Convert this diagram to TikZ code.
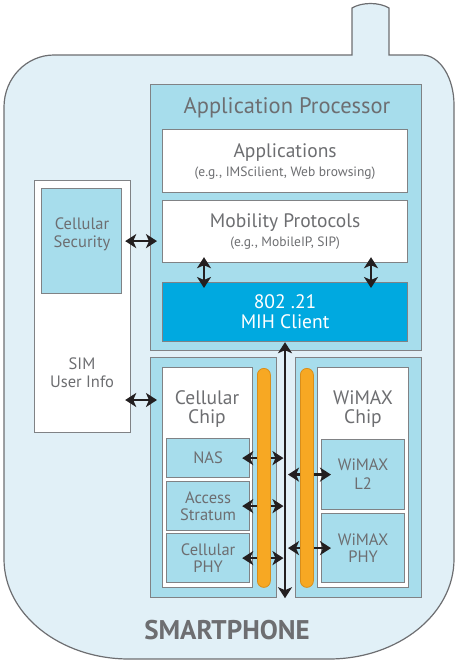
\documentclass[tikz,border=0pt]{standalone}
\usepackage{fontspec}
\setmainfont{PT Sans}
\usetikzlibrary{arrows.meta}
\definecolor{phoneFill}{HTML}{E1F0F7}
\definecolor{phoneLine}{HTML}{6D6E71}
\definecolor{boxLine}{HTML}{808285}
\definecolor{chipBlue}{HTML}{A7DDEC}
\definecolor{mihBlue}{HTML}{00A9E0}
\definecolor{busOrange}{HTML}{F7A823}
\definecolor{busOrangeLine}{HTML}{D98E1A}
\definecolor{labelGray}{HTML}{6D6E71}
\definecolor{arrowBlack}{HTML}{231F20}
\newcommand\subsize{\fontsize{13.5}{15}\selectfont}

\begin{document}
\begin{tikzpicture}[x=1pt,y=-1pt]
  \tikzset{
    block/.style={draw=boxLine,line width=1.2pt,inner sep=0pt,anchor=north west,text=labelGray,align=center},
    whitebox/.style={block,fill=white},
    chipbox/.style={block,fill=chipBlue},
    bar/.style={draw=busOrangeLine,fill=busOrange,line width=0.8pt,rounded corners=6.5pt,anchor=north west,inner sep=0pt,minimum width=13pt,minimum height=219pt},
    link/.style={{Stealth[length=11pt,width=14pt,inset=3pt]}-{Stealth[length=11pt,width=14pt,inset=3pt]},line width=2.6pt,draw=arrowBlack},
    bigtxt/.style={font=\fontsize{19.5}{19.5}\selectfont,text=labelGray,align=center},
    smalltxt/.style={font=\fontsize{16.5}{18}\selectfont,text=labelGray,align=center}
  }
  \useasboundingbox (0,0) rectangle (456,663);

  \filldraw[draw=phoneLine,fill=phoneFill,line width=1.2pt]
    (4,107) arc[start angle=180,end angle=270,x radius=50,y radius=52]
    -- (352,55) -- (352,8) .. controls (362,2) and (379,2) .. (389,8) -- (389,55)
    -- (422,55) arc[start angle=270,end angle=360,x radius=32,y radius=50]
    -- (454,559) arc[start angle=0,end angle=90,x radius=125,y radius=100]
    -- (129,659) arc[start angle=90,end angle=180,x radius=125,y radius=100]
    -- cycle;

  \node[chipbox,minimum width=271pt,minimum height=266pt] (ap) at (150,84) {};
  \node[bigtxt,font=\fontsize{22.5}{24}\selectfont] (aptitle) at (287,108) {Application Processor};
  \node[whitebox,minimum width=245pt,minimum height=63pt,font=\fontsize{19.5}{20}\selectfont] (apps) at (162,129)
    {Applications\\[-1pt]{\subsize (e.g., IMScilient, Web browsing)}};
  \node[whitebox,minimum width=245pt,minimum height=62pt,font=\fontsize{19.5}{20}\selectfont] (mob) at (162,200)
    {Mobility Protocols\\[-1pt]{\subsize (e.g., MobileIP, SIP)}};
  \node[block,fill=mihBlue,text=white,minimum width=245pt,minimum height=59pt,font=\fontsize{19.5}{20}\selectfont] (mih) at (162,282)
    {802 .21\\MIH Client};

  \node[whitebox,minimum width=96pt,minimum height=252pt] (sim) at (34,180) {};
  \node[chipbox,minimum width=80pt,minimum height=105pt] (sec) at (41,188) {};
  \node[smalltxt] (sectxt) at (82,234) {Cellular\\Security};
  \node[smalltxt] (simtxt) at (82,373) {SIM\\User Info};

  \node[chipbox,minimum width=126pt,minimum height=240pt] (cell) at (150,357) {};
  \node[whitebox,minimum width=90pt,minimum height=220pt] (cellin) at (162,367) {};
  \node[bigtxt] (celltxt) at (207,409) {Cellular\\Chip};
  \node[chipbox,minimum width=83pt,minimum height=39pt,font=\fontsize{16.5}{17}\selectfont] (nas) at (166,438) {NAS};
  \node[chipbox,minimum width=83pt,minimum height=49pt,font=\fontsize{16.5}{17}\selectfont] (stratum) at (166,481) {Access\\Stratum};
  \node[chipbox,minimum width=83pt,minimum height=49pt,font=\fontsize{16.5}{17}\selectfont] (cphy) at (166,533) {Cellular\\PHY};

  \node[chipbox,minimum width=126pt,minimum height=240pt] (wimax) at (295,357) {};
  \node[whitebox,minimum width=91pt,minimum height=220pt] (wimaxin) at (317,367) {};
  \node[bigtxt] (wimaxtxt) at (363,409) {WiMAX\\Chip};
  \node[chipbox,minimum width=83pt,minimum height=70pt,font=\fontsize{16.5}{19}\selectfont] (wl2) at (321,439) {WiMAX\\L2};
  \node[chipbox,minimum width=83pt,minimum height=69pt,font=\fontsize{16.5}{17}\selectfont] (wphy) at (321,513) {WiMAX\\PHY};

  \coordinate (bustop) at (mih.south -| 285,0);
  \coordinate (busbot) at (cell.south -| 285,0);

  \draw[link,shorten <=-6pt,shorten >=-7pt] (sim.east |- sec.east) -- (ap.west |- sec.east);
  \draw[link,shorten <=-6pt,shorten >=-7pt] (sim.east |- 0,400) -- (cell.west |- 0,400);
  \foreach \x in {204,371}
    \draw[link,shorten <=-6pt,shorten >=-6pt] (mob.south -| \x,0) -- (mih.north -| \x,0);
  \draw[link] (bustop) -- (busbot);
  \foreach \n in {nas,stratum,cphy}
    \draw[link,shorten <=-8pt,shorten >=1.5pt] (\n.east) -- (\n.east -| bustop);
  \foreach \n in {wl2,wphy}
    \draw[link,shorten <=3pt,shorten >=-10pt] (\n.west -| bustop) -- (\n.west);

  \node[bar] (cellbar) at (257,368) {};
  \node[bar] (wimaxbar) at (300,368) {};

  \node[font=\fontsize{27}{30}\selectfont\bfseries,text=labelGray] (phonetxt) at (227,630) {SMARTPHONE};
\end{tikzpicture}
\end{document}
